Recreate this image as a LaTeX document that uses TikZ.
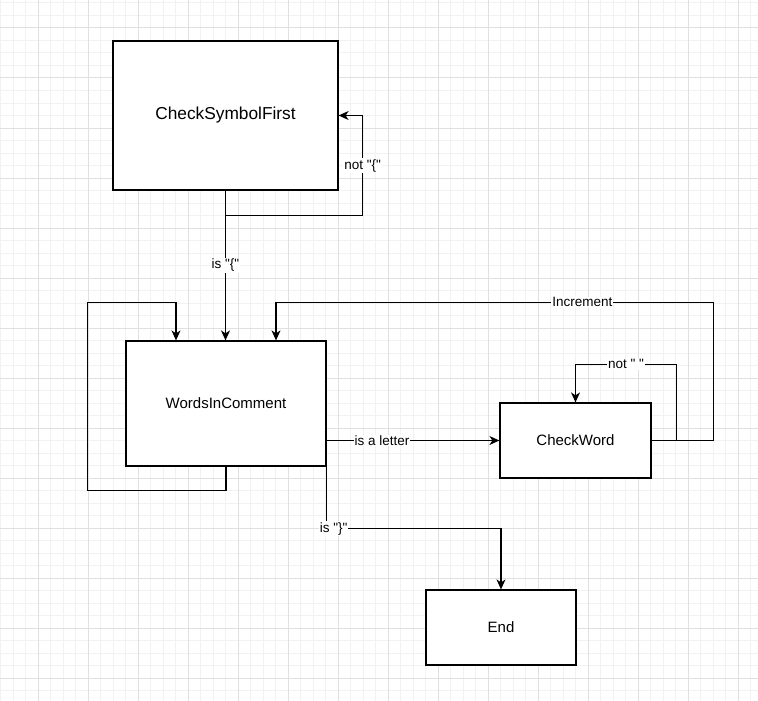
\documentclass[tikz,border=0pt]{standalone}
\usepackage{fontspec}
\setmainfont{Liberation Sans}[Ligatures=TeXOff]
\usetikzlibrary{positioning, arrows.meta}
\definecolor{gridminor}{RGB}{242,242,242}
\definecolor{gridmajor}{RGB}{224,224,224}

\begin{document}
\begin{tikzpicture}[
  x=1pt, y=-1pt,
  statebox/.style={
    draw=black, line width=1.25pt, fill=white,
    inner sep=0pt, font=\fontsize{15}{18}\selectfont
  },
  lbl/.style={fill=white, inner sep=1pt, font=\fontsize{13.5}{16}\selectfont},
  arrow/.style={-{Stealth[length=10pt, width=9pt, inset=3pt]}, line width=1.25pt}
]
  \useasboundingbox (0,0) rectangle (758,701);
  \fill[white] (0,0) rectangle (758,701);

  % background grid
  \foreach \gx in {0.5,13,...,758} \draw[gridminor, line width=1pt] (\gx,0) -- (\gx,701);
  \foreach \gy in {3,15.5,...,701} \draw[gridminor, line width=1pt] (0,\gy) -- (758,\gy);
  \foreach \gx in {38,88,...,758} \draw[gridmajor, line width=1pt] (\gx,0) -- (\gx,701);
  \foreach \gy in {28,78,...,701} \draw[gridmajor, line width=1pt] (0,\gy) -- (758,\gy);

  \node[statebox, minimum width=225pt, minimum height=149pt, font=\fontsize{17.3}{20}\selectfont] (csf) at (225.5,115.5) {CheckSymbolFirst};
  \node[statebox, minimum width=200pt, minimum height=125pt] (wic) at (226,403.5) {WordsInComment};
  \node[statebox, minimum width=151pt, minimum height=75pt] (cw) at (575.5,440.5) {CheckWord};
  \node[statebox, minimum width=150pt, minimum height=75pt] (end) at (501,627.5) {End};

  \draw[arrow] (csf.south) -- node[lbl] {is "\{"} (csf.south |- wic.north);
  \draw[arrow] ([yshift=-25pt]csf.south) -| node[lbl, pos=0.75] {not "\{"} ([xshift=24pt]csf.east) -- (csf.east);

  \draw[arrow] (wic.south) -- ++(0,24) -| ([xshift=-38pt, yshift=38pt]wic.north west) -| ([xshift=-50pt]wic.north);
  \draw[arrow] (wic.east |- cw.west) -- node[lbl, pos=0.32] {is a letter} (cw.west);
  \draw[arrow] (wic.south east) -- ++(0,62) -| node[lbl, pos=0.02] {is "\}"} (end.north);

  \draw[arrow] (cw.east) -- ++(25,0) |- node[lbl, pos=0.75] {not " "} ([yshift=38pt]cw.north) -- (cw.north);
  \draw[arrow] (cw.east) -- ++(62,0) |- node[lbl, pos=0.65] {Increment} ([xshift=50pt, yshift=38pt]wic.north) -- ([xshift=50pt]wic.north);
\end{tikzpicture}
\end{document}
